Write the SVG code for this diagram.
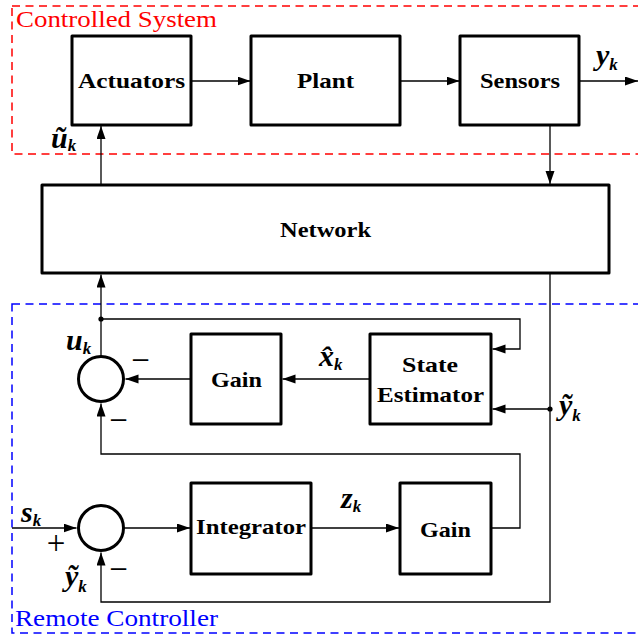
<svg xmlns="http://www.w3.org/2000/svg" width="638" height="637" viewBox="0 0 638 637">
<defs>
<marker id="arr" markerUnits="userSpaceOnUse" markerWidth="14" markerHeight="10" refX="13" refY="4.5" orient="auto">
<path d="M0,0 L13,4.5 L0,9 z" fill="#000"/>
</marker>
<style>
.box{fill:#fff;stroke:#000;stroke-width:3;stroke-linejoin:round}
.sum{fill:#fff;stroke:#000;stroke-width:3}
.arrow{fill:none;stroke:#000;stroke-width:1.3;marker-end:url(#arr)}
.lbl{font-family:'Liberation Serif','DejaVu Serif',serif;font-weight:bold;font-size:22px;fill:#000}
.grp{font-family:'Liberation Serif','DejaVu Serif',serif;font-size:23px}
.math{font-family:'Liberation Serif','DejaVu Serif',serif;font-weight:bold;font-style:italic;font-size:30px;fill:#000}
.sub{font-size:17px}
.sign{font-family:'Liberation Serif','DejaVu Serif',serif;font-size:33px;fill:#000}
</style>
</defs>
<rect width="638" height="637" fill="#fff"/>

<g id="controlled-system">
<rect x="12" y="6" width="640" height="148" fill="none" stroke="#f00" stroke-width="1.5" stroke-dasharray="8,5.5"/>
<text class="grp" x="16" y="26.5" fill="#f00" textLength="201" lengthAdjust="spacingAndGlyphs">Controlled System</text>
</g>
<g id="remote-controller">
<rect x="12" y="304" width="640" height="329" fill="none" stroke="#00f" stroke-width="1.5" stroke-dasharray="8,5.5"/>
<text class="grp" x="15" y="626" fill="#00f" textLength="203" lengthAdjust="spacingAndGlyphs">Remote Controller</text>
</g>

<g id="connectors">
<path class="arrow" d="M191,81 H250.5"/>
<path class="arrow" d="M400,81 H459.5"/>
<path class="arrow" d="M580,81 H638"/>
<path class="arrow" d="M101,184 V126"/>
<path class="arrow" d="M550,125 V184"/>
<path class="arrow" d="M101,356 V274.5"/>
<path class="arrow" d="M101,319 H520 V349 H492.5"/>
<path class="arrow" d="M370,379 H282.5"/>
<path class="arrow" d="M191,379 H125.5"/>
<path class="arrow" d="M550,273 V602 H101 V552.5"/>
<path class="arrow" d="M550,409 H492.5"/>
<path class="arrow" d="M491,528 H520 V454 H101 V403.5"/>
<path class="arrow" d="M12,528 H76.5"/>
<path class="arrow" d="M124,528 H190"/>
<path class="arrow" d="M311,528 H399"/>
<circle cx="101" cy="319" r="2.6" fill="#000"/>
<circle cx="550" cy="409" r="2.6" fill="#000"/>
</g>

<g id="actuators">
<rect class="box" x="72" y="36" width="119" height="89"/>
<text class="lbl" x="78" y="88" textLength="107" lengthAdjust="spacingAndGlyphs">Actuators</text>
</g>
<g id="plant">
<rect class="box" x="251" y="36" width="149" height="89"/>
<text class="lbl" x="297" y="88" textLength="57" lengthAdjust="spacingAndGlyphs">Plant</text>
</g>
<g id="sensors">
<rect class="box" x="460" y="36" width="119" height="89"/>
<text class="lbl" x="480" y="88" textLength="80" lengthAdjust="spacingAndGlyphs">Sensors</text>
</g>
<g id="network">
<rect class="box" x="42" y="185" width="567" height="88"/>
<text class="lbl" x="280" y="237" textLength="91" lengthAdjust="spacingAndGlyphs">Network</text>
</g>
<g id="sum-upper">
<circle class="sum" cx="101" cy="379" r="22.5"/>
</g>
<g id="gain-upper">
<rect class="box" x="191" y="334" width="90" height="90"/>
<text class="lbl" x="211" y="387" textLength="51" lengthAdjust="spacingAndGlyphs">Gain</text>
</g>
<g id="state-estimator">
<rect class="box" x="370" y="334" width="121" height="90"/>
<text class="lbl" x="402" y="372" textLength="56" lengthAdjust="spacingAndGlyphs">State</text>
<text class="lbl" x="377" y="402" textLength="107" lengthAdjust="spacingAndGlyphs">Estimator</text>
</g>
<g id="sum-lower">
<circle class="sum" cx="101" cy="528" r="22.5"/>
</g>
<g id="integrator">
<rect class="box" x="191" y="483" width="120" height="91"/>
<text class="lbl" x="196" y="534" textLength="110" lengthAdjust="spacingAndGlyphs">Integrator</text>
</g>
<g id="gain-lower">
<rect class="box" x="400" y="483" width="91" height="91"/>
<text class="lbl" x="420" y="537" textLength="51" lengthAdjust="spacingAndGlyphs">Gain</text>
</g>

<g id="labels">
<text class="math" x="596" y="65">y<tspan class="sub" dy="5">k</tspan></text>
<text class="math" x="51" y="148">ũ<tspan class="sub" dy="3">k</tspan></text>
<text class="math" x="66" y="350">u<tspan class="sub" dy="4">k</tspan></text>
<text class="math" x="319" y="366">x̂<tspan class="sub" dy="4">k</tspan></text>
<text class="math" x="559" y="415">ỹ<tspan class="sub" dy="6">k</tspan></text>
<text class="math" x="21" y="522">s<tspan class="sub" dy="4">k</tspan></text>
<text class="math" x="341" y="508">z<tspan class="sub" dy="4">k</tspan></text>
<text class="math" x="65" y="586">ỹ<tspan class="sub" dy="6">k</tspan></text>
<text class="sign" x="140.5" y="371" text-anchor="middle">−</text>
<text class="sign" x="118.5" y="431" text-anchor="middle">−</text>
<text class="sign" x="118.5" y="580" text-anchor="middle">−</text>
<text class="sign" x="56" y="553.5" text-anchor="middle" font-size="42">+</text>
</g>
</svg>
